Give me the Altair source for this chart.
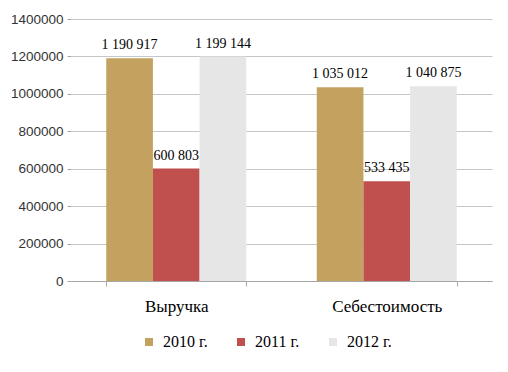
import altair as alt
import pandas as pd

categories = ["Выручка", "Себестоимость"]
years = ["2010 г.", "2011 г.", "2012 г."]
values_2010 = [1190917, 1035012]
values_2011 = [600803, 533435]
values_2012 = [1199144, 1040875]
labels_2010 = ["1 190 917", "1 035 012"]
labels_2011 = ["600 803", "533 435"]
labels_2012 = ["1 199 144", "1 040 875"]
colors = ["#c3a25f", "#c0504d", "#e6e6e6"]

rows = []
for yr, vals, labs in zip(years, [values_2010, values_2011, values_2012],
                          [labels_2010, labels_2011, labels_2012]):
    for c, v, l in zip(categories, vals, labs):
        rows.append({"cat": c, "year": yr, "value": v, "label": l})
df = pd.DataFrame(rows)

serif = "Liberation Serif"

x = alt.X("cat:N", sort=categories, title=None,
          scale=alt.Scale(paddingInner=0.335, paddingOuter=0.1675),
          axis=alt.Axis(labelAngle=0, labelFont=serif, labelFontSize=17,
                        labelColor="#000000", labelPadding=12,
                        tickBand="extent", tickColor="#a6a6a6", tickSize=5,
                        domainColor="#a6a6a6", grid=False))
xo = alt.XOffset("year:N", sort=years)
y = alt.Y("value:Q", title=None,
          scale=alt.Scale(domain=[0, 1400000], nice=False),
          axis=alt.Axis(values=list(range(0, 1400001, 200000)), format="d",
                        labelFont="Liberation Sans", labelFontSize=13.5,
                        labelColor="#333333", labelPadding=4,
                        gridColor="#c6c6c6", domain=False,
                        tickColor="#a6a6a6", tickSize=4))

bars = alt.Chart(df).mark_bar().encode(
    x=x, xOffset=xo, y=y,
    color=alt.Color("year:N", sort=years,
                    scale=alt.Scale(domain=years, range=colors),
                    legend=alt.Legend(title=None, orient="none",
                                      direction="horizontal",
                                      legendX=70, legendY=315,
                                      symbolType="square", symbolSize=64,
                                      symbolStrokeWidth=0,
                                      labelFont=serif, labelFontSize=16,
                                      labelColor="#000000", columnPadding=25,
                                      labelOffset=6)),
)

text = alt.Chart(df).mark_text(baseline="bottom", dy=-6, font=serif,
                               fontSize=14, color="#000000").encode(
    x=x, xOffset=xo, y=y, text="label:N"
)

chart = (bars + text).properties(
    width=421, height=262,
    autosize=alt.AutoSizeParams(type="none"),
    padding={"left": 63, "top": 11, "right": 8, "bottom": 80},
    background="#ffffff",
).configure_view(stroke=None)

chart.save("out.html", embed_options={"renderer": "svg", "actions": False})
